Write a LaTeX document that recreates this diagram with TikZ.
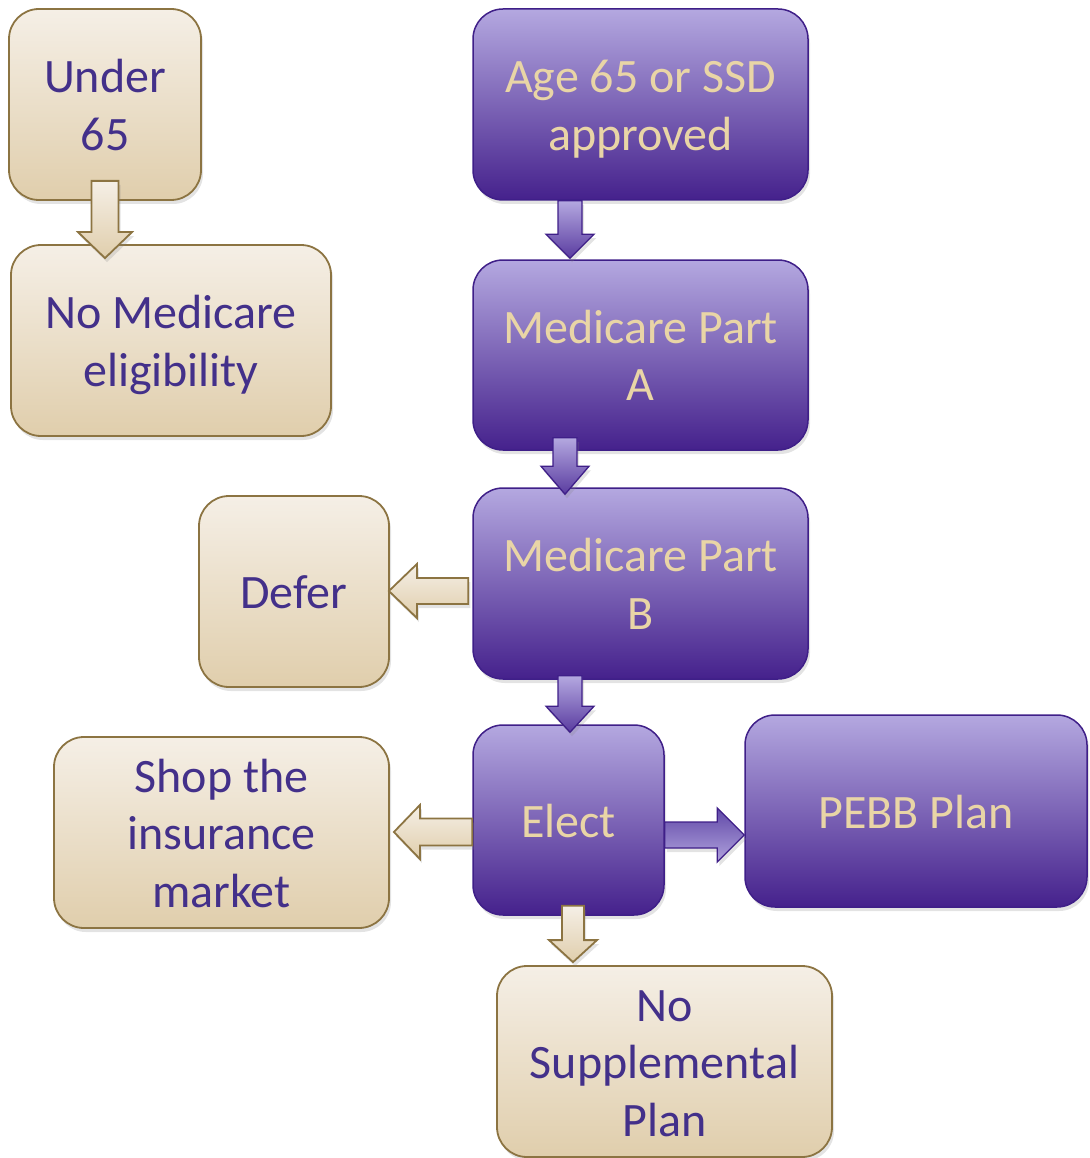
\documentclass[tikz,border=0pt]{standalone}
\usepackage{fontspec}
\setmainfont{Carlito}
\usetikzlibrary{shadows,calc}
\definecolor{bgtop}{HTML}{F5EFE6}
\definecolor{bgbot}{HTML}{E0CEAC}
\definecolor{bgline}{HTML}{8C7442}
\definecolor{pltop}{HTML}{B4A8E0}
\definecolor{plbot}{HTML}{45218C}
\definecolor{plline}{HTML}{3F1F88}
\definecolor{plmid}{HTML}{5A3CA0}
\definecolor{pldark}{HTML}{6048A8}
\definecolor{pllight}{HTML}{B0A2DC}
\definecolor{ptext}{HTML}{43308A}
\definecolor{btext}{HTML}{E9D5A6}
\newcommand\tstrut{\rule{0pt}{44pt}}
\newcommand\bstrut{\rule[-10pt]{0pt}{0pt}}
\newcommand\blkdown[6]{\path[#1] let \p1=(#2), \p2=(#3) in
  (\x1-#4,\y1) -- (\x1-#4,\y2+#6) -- (\x1-#5,\y2+#6) -- (\x2,\y2) --
  (\x1+#5,\y2+#6) -- (\x1+#4,\y2+#6) -- (\x1+#4,\y1) -- cycle;}
\newcommand\blkleft[6]{\path[#1] let \p1=(#2), \p2=(#3) in
  (\x1,\y1+#4) -- (\x2+#6,\y1+#4) -- (\x2+#6,\y1+#5) -- (\x2,\y2) --
  (\x2+#6,\y1-#5) -- (\x2+#6,\y1-#4) -- (\x1,\y1-#4) -- cycle;}
\newcommand\blkright[6]{\path[#1] let \p1=(#2), \p2=(#3) in
  (\x1,\y1+#4) -- (\x2-#6,\y1+#4) -- (\x2-#6,\y1+#5) -- (\x2,\y2) --
  (\x2-#6,\y1-#5) -- (\x2-#6,\y1-#4) -- (\x1,\y1-#4) -- cycle;}
\tikzset{
  shad/.style={drop shadow={shadow xshift=2pt, shadow yshift=-4pt, opacity=0.22}},
  box/.style={shad, rounded corners=30pt, inner sep=0pt, align=center,
    font=\fontsize{48}{57.5}\selectfont},
  beigebox/.style={box, top color=bgtop, bottom color=bgbot, draw=bgline,
    line width=1.8pt, text=ptext},
  purplebox/.style={box, top color=pltop, bottom color=plbot, draw=plline,
    line width=1.5pt, text=btext},
  beigearr/.style={shad, top color=bgtop, bottom color=bgbot, draw=bgline, line width=1.8pt},
  purpdown/.style={shad, top color=pltop, bottom color=plmid, draw=plline, line width=1.3pt},
  purpright/.style={shad, top color=pldark, bottom color=pllight, draw=plline, line width=1.3pt}
}
\begin{document}
\begin{tikzpicture}[x=1pt,y=-1pt]
\useasboundingbox (0,0) rectangle (1089,1158);
% boxes
\node[beigebox, minimum width=192pt, minimum height=191pt] (u65) at (105,104.5) {\tstrut Under\\65\bstrut};
\node[beigebox, minimum width=320pt, minimum height=191pt] (nome) at (171,340.5) {\tstrut No Medicare\\eligibility\bstrut};
\node[purplebox, minimum width=335pt, minimum height=191pt] (age) at (640.5,104.5) {\tstrut Age 65 or SSD\\approved\bstrut};
\node[purplebox, minimum width=335pt, minimum height=190pt] (pa) at (640.5,355) {\tstrut Medicare Part\\A\bstrut};
\node[purplebox, minimum width=335pt, minimum height=191pt] (pb) at (640.5,583.5) {\tstrut Medicare Part\\B\bstrut};
\node[beigebox, minimum width=190pt, minimum height=191pt] (defer) at (294,591.5) {\tstrut Defer\bstrut};
\node[purplebox, minimum width=191pt, minimum height=190pt] (elect) at (568.5,820) {\tstrut Elect\bstrut};
\node[purplebox, minimum width=342pt, minimum height=192pt] (pebb) at (916,811) {\tstrut PEBB Plan\bstrut};
\node[beigebox, minimum width=335pt, minimum height=191pt] (shop) at (221.5,832.5) {\tstrut Shop the\\insurance\\market\bstrut};
\node[beigebox, minimum width=335pt, minimum height=191pt] (nosupp) at (664.5,1061.5) {\tstrut No\\Supplemental\\Plan\bstrut};
% block arrows
\blkdown{beigearr}{$(u65.south)+(0,-20)$}{$(u65.south|-nome.north)+(0,14)$}{13.5pt}{27pt}{26pt}
\blkdown{purpdown}{$(age.south)+(-70.5,0)$}{$(age.south|-pa.north)+(-70.5,-1)$}{12pt}{24pt}{24pt}
\blkdown{purpdown}{$(pa.south)+(-75.5,-13)$}{$(pa.south|-pb.north)+(-75.5,7)$}{12pt}{24pt}{28pt}
\blkdown{purpdown}{$(pb.south)+(-70.5,-4)$}{$(pb.south|-elect.north)+(-70.5,8)$}{12pt}{24pt}{26pt}
\blkleft{beigearr}{$(pb.west)+(-4,7.5)$}{$(defer.east|-pb.west)+(-1,7.5)$}{13pt}{27pt}{28pt}
\blkleft{beigearr}{$(elect.west)+(0,12)$}{$(shop.east|-elect.west)+(4,12)$}{13.5pt}{27pt}{26pt}
\blkright{purpright}{$(elect.east)+(0,15)$}{$(pebb.west|-elect.east)+(0,15)$}{13pt}{27pt}{27pt}
\blkdown{beigearr}{$(elect.south)+(4.5,-10)$}{$(elect.south|-nosupp.north)+(4.5,-3)$}{11pt}{24pt}{22pt}
\end{tikzpicture}
\end{document}
